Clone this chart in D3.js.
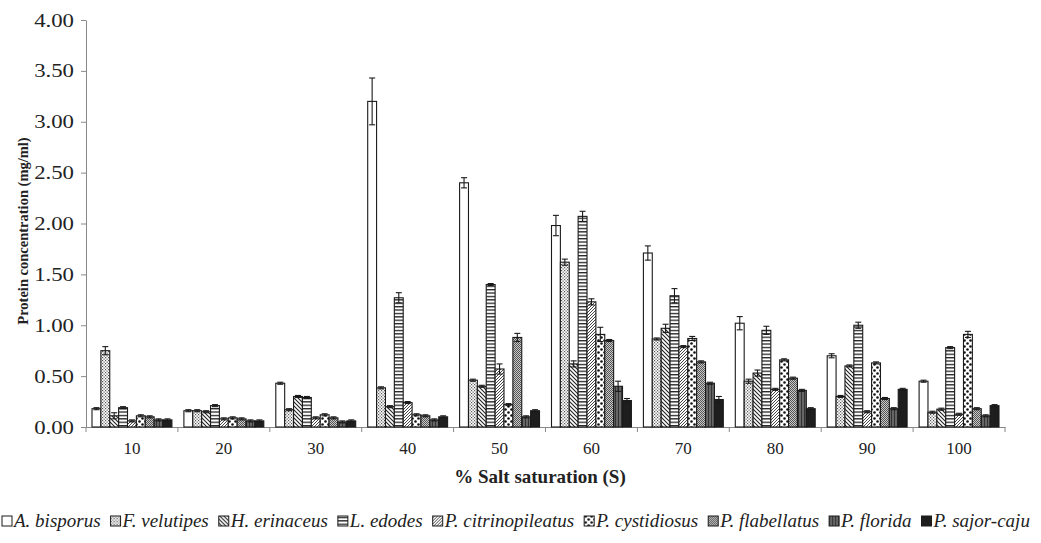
<!DOCTYPE html>
<html>
<head>
<meta charset="utf-8">
<script src="https://cdn.jsdelivr.net/npm/d3@7"></script>
<style>
  body { margin: 0; background: #fff; }
</style>
</head>
<body>
<svg id="chart" width="1041" height="543"></svg>
<script>
// categories (% salt saturation)
const categories = ["10", "20", "30", "40", "50", "60", "70", "80", "90", "100"];
const seriesNames = ["A. bisporus", "F. velutipes", "H. erinaceus", "L. edodes", "P. citrinopileatus",
  "P. cystidiosus", "P. flabellatus", "P. florida", "P. sajor-caju"];

// protein concentration (mg/ml), one array per species
const aBisporus = [0.18, 0.16, 0.43, 3.20, 2.40, 1.98, 1.71, 1.02, 0.70, 0.45];
const fVelutipes = [0.75, 0.16, 0.17, 0.385, 0.46, 1.62, 0.865, 0.45, 0.30, 0.145];
const hErinaceus = [0.11, 0.15, 0.30, 0.20, 0.40, 0.62, 0.97, 0.53, 0.60, 0.175];
const lEdodes = [0.19, 0.21, 0.29, 1.27, 1.40, 2.07, 1.29, 0.95, 1.00, 0.78];
const pCitrino = [0.06, 0.08, 0.09, 0.24, 0.57, 1.23, 0.79, 0.37, 0.15, 0.125];
const pCystid = [0.11, 0.09, 0.12, 0.12, 0.22, 0.91, 0.87, 0.66, 0.63, 0.91];
const pFlabel = [0.10, 0.08, 0.09, 0.11, 0.88, 0.85, 0.64, 0.48, 0.28, 0.18];
const pFlorida = [0.07, 0.06, 0.05, 0.07, 0.10, 0.40, 0.43, 0.36, 0.18, 0.11];
const pSajor = [0.07, 0.06, 0.06, 0.10, 0.16, 0.26, 0.27, 0.18, 0.37, 0.21];

// standard deviations (error bars)
const aBisporusErr = [0.01, 0.01, 0.01, 0.23, 0.05, 0.10, 0.07, 0.065, 0.02, 0.01];
const fVelutipesErr = [0.04, 0.01, 0.01, 0.01, 0.01, 0.03, 0.01, 0.02, 0.01, 0.01];
const hErinaceusErr = [0.03, 0.01, 0.01, 0.01, 0.01, 0.03, 0.04, 0.03, 0.01, 0.01];
const lEdodesErr = [0.01, 0.01, 0.01, 0.05, 0.01, 0.05, 0.07, 0.04, 0.03, 0.01];
const pCitrinoErr = [0.01, 0.01, 0.01, 0.01, 0.05, 0.03, 0.01, 0.01, 0.01, 0.01];
const pCystidErr = [0.01, 0.01, 0.01, 0.01, 0.01, 0.07, 0.02, 0.01, 0.01, 0.03];
const pFlabelErr = [0.01, 0.01, 0.01, 0.01, 0.04, 0.01, 0.01, 0.01, 0.01, 0.01];
const pFloridaErr = [0.01, 0.01, 0.01, 0.01, 0.01, 0.05, 0.01, 0.01, 0.01, 0.01];
const pSajorErr = [0.01, 0.01, 0.01, 0.01, 0.01, 0.02, 0.03, 0.01, 0.01, 0.01];

const yTicks = [0, 0.5, 1, 1.5, 2, 2.5, 3, 3.5, 4];

const values = [aBisporus, fVelutipes, hErinaceus, lEdodes, pCitrino, pCystid, pFlabel, pFlorida, pSajor];
const errors = [aBisporusErr, fVelutipesErr, hErinaceusErr, lEdodesErr, pCitrinoErr, pCystidErr, pFlabelErr, pFloridaErr, pSajorErr];

const serif = "'Liberation Serif', 'DejaVu Serif', 'Times New Roman', serif";
const svg = d3.select("#chart");
const plotLeft = 86, plotRight = 1005, plotTop = 20, plotBottom = 427;

const x0 = d3.scaleBand().domain(categories).range([plotLeft, plotRight]).padding(0);
const x1 = d3.scaleBand().domain(seriesNames).range([6, x0.bandwidth() - 6]).padding(0);
const y = d3.scaleLinear().domain([0, 4]).range([plotBottom, plotTop]);

// fill patterns
const defs = svg.append("defs");
function pat(id, w, h, bg) {
  const p = defs.append("pattern").attr("id", id).attr("patternUnits", "userSpaceOnUse")
    .attr("width", w).attr("height", h);
  p.append("rect").attr("width", w).attr("height", h).attr("fill", bg);
  return p;
}
// F. velutipes: fine dotted grid
let p = pat("p1", 3, 3, "#fff");
p.append("rect").attr("x", 0).attr("y", 0).attr("width", 1.2).attr("height", 1.2).attr("fill", "#555");
p.append("rect").attr("x", 1.5).attr("y", 1.5).attr("width", 1.2).attr("height", 1.2).attr("fill", "#555");
// H. erinaceus: wide downward diagonal
p = pat("p2", 4, 4, "#fff");
p.append("path").attr("d", "M-1,-1 L5,5 M-1,3 L1,5 M3,-1 L5,1").attr("stroke", "#222").attr("stroke-width", 1.1);
// L. edodes: horizontal lines
p = pat("p3", 4, 3.4, "#fff");
p.append("rect").attr("y", 0).attr("width", 4).attr("height", 1.3).attr("fill", "#222");
// P. citrinopileatus: upward diagonal
p = pat("p4", 3, 3, "#fff");
p.append("path").attr("d", "M-1,4 L4,-1 M-1,1 L1,-1 M2,4 L4,2").attr("stroke", "#333").attr("stroke-width", 0.9);
// P. cystidiosus: large confetti
p = pat("p5", 6, 6, "#fff");
p.append("circle").attr("cx", 1.5).attr("cy", 1.5).attr("r", 1.3).attr("fill", "#111");
p.append("circle").attr("cx", 4.5).attr("cy", 4.5).attr("r", 1.3).attr("fill", "#111");
// P. flabellatus: gray check
p = pat("p6", 2, 2, "#c8c8c8");
p.append("rect").attr("width", 1).attr("height", 1).attr("fill", "#555");
p.append("rect").attr("x", 1).attr("y", 1).attr("width", 1).attr("height", 1).attr("fill", "#555");
// P. florida: dark gray
p = pat("p7", 3, 3, "#666");
p.append("rect").attr("width", 1).attr("height", 3).attr("fill", "#333");

const fills = ["#fff", "url(#p1)", "url(#p2)", "url(#p3)", "url(#p4)", "url(#p5)", "url(#p6)", "url(#p7)", "#1e1e1e"];

// axes
const yAxis = svg.append("g")
  .attr("transform", `translate(${plotLeft},0)`)
  .call(d3.axisLeft(y).tickValues(yTicks).tickFormat(d3.format(".2f")).tickSize(5).tickPadding(5).tickSizeOuter(0));
yAxis.attr("font-family", serif);
yAxis.selectAll("text")
  .attr("fill", "#222")
  .attr("transform", "scale(1.2,1)")
  .style("font-family", serif)
  .style("font-size", "19px");
yAxis.selectAll("line, path").attr("stroke", "#888");

const xAxis = svg.append("g")
  .attr("transform", `translate(0,${plotBottom})`)
  .call(d3.axisBottom(x0).tickSize(0).tickPadding(15));
xAxis.attr("font-family", serif);
xAxis.select(".domain").attr("stroke", "#888");
xAxis.selectAll("text")
  .attr("fill", "#222")
  .style("font-family", serif)
  .style("font-size", "17px");

// boundary ticks between categories
svg.append("g").selectAll("line")
  .data(categories.map(c => x0(c)).concat([x0.range()[1]]))
  .join("line")
  .attr("x1", d => d).attr("x2", d => d)
  .attr("y1", plotBottom).attr("y2", plotBottom + 5)
  .attr("stroke", "#888");

// bars
const barData = [];
values.forEach((vals, si) => vals.forEach((v, ci) =>
  barData.push({ s: seriesNames[si], si, c: categories[ci], v, e: errors[si][ci] })));

const g = svg.append("g");
g.selectAll("rect.bar")
  .data(barData)
  .join("rect")
  .attr("class", "bar")
  .attr("x", d => x0(d.c) + x1(d.s))
  .attr("y", d => y(d.v))
  .attr("width", x1.bandwidth())
  .attr("height", d => y(0) - y(d.v))
  .attr("fill", d => fills[d.si])
  .attr("stroke", "#1a1a1a")
  .attr("stroke-width", 1.1);

// error bars
const eg = svg.append("g").attr("stroke", "#1a1a1a").attr("stroke-width", 1.1);
barData.forEach(d => {
  const cx = x0(d.c) + x1(d.s) + x1.bandwidth() / 2;
  const hw = 3;
  eg.append("line").attr("x1", cx).attr("x2", cx).attr("y1", y(d.v - d.e)).attr("y2", y(d.v + d.e));
  eg.append("line").attr("x1", cx - hw).attr("x2", cx + hw).attr("y1", y(d.v + d.e)).attr("y2", y(d.v + d.e));
  eg.append("line").attr("x1", cx - hw).attr("x2", cx + hw).attr("y1", y(d.v - d.e)).attr("y2", y(d.v - d.e));
});

// axis titles
svg.append("text")
  .attr("x", 540).attr("y", 483)
  .attr("text-anchor", "middle")
  .attr("fill", "#222")
  .style("font-family", serif)
  .style("font-size", "19px").style("font-weight", "bold")
  .text("% Salt saturation (S)");

svg.append("text")
  .attr("transform", "translate(28,231) rotate(-90)")
  .attr("text-anchor", "middle")
  .attr("fill", "#222")
  .style("font-family", serif)
  .style("font-size", "14.5px").style("font-weight", "bold")
  .text("Protein concentration (mg/ml)");

// legend
const legend = svg.append("g").attr("transform", "translate(2,527)");
let lx = 0;
seriesNames.forEach((name, i) => {
  const item = legend.append("g").attr("transform", `translate(${lx},0)`);
  item.append("rect").attr("x", 0).attr("y", -11).attr("width", 10).attr("height", 10)
    .attr("fill", fills[i]).attr("stroke", "#1a1a1a").attr("stroke-width", 1);
  const t = item.append("text").attr("x", 12).attr("y", 0)
    .attr("fill", "#222")
    .style("font-family", serif)
    .style("font-size", "19px").style("font-style", "italic").text(name);
  lx += 12 + t.node().getComputedTextLength() + 10;
});
</script>
</body>
</html>
